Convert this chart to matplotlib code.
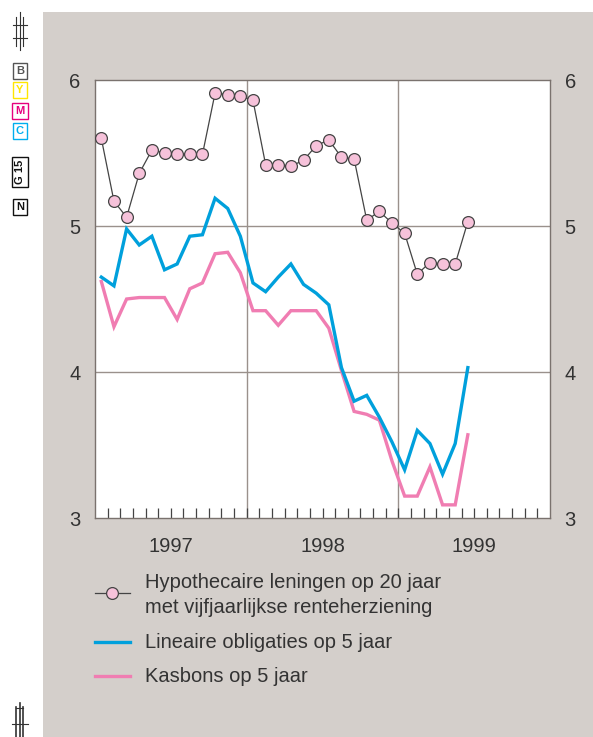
import numpy as np
import matplotlib.pyplot as plt
from matplotlib.lines import Line2D
from matplotlib.patches import Rectangle

plt.rcParams['font.family'] = ['Liberation Sans', 'DejaVu Sans']

# monthly values, jan 1997 .. jun 1999
hypotheek = [5.60, 5.17, 5.06, 5.36, 5.52, 5.50, 5.49, 5.49, 5.49, 5.91,
             5.90, 5.89, 5.86, 5.42, 5.42, 5.41, 5.45, 5.55, 5.59, 5.47,
             5.46, 5.04, 5.10, 5.02, 4.95, 4.67, 4.75, 4.74, 4.74, 5.03]
lineaire = [4.65, 4.59, 4.98, 4.87, 4.93, 4.70, 4.74, 4.93, 4.94, 5.19,
            5.12, 4.93, 4.61, 4.55, 4.65, 4.74, 4.60, 4.54, 4.46, 4.03,
            3.80, 3.84, 3.69, 3.52, 3.33, 3.60, 3.51, 3.30, 3.51, 4.03]
kasbons = [4.62, 4.31, 4.50, 4.51, 4.51, 4.51, 4.36, 4.57, 4.61, 4.81,
           4.82, 4.68, 4.42, 4.42, 4.32, 4.42, 4.42, 4.42, 4.30, 4.01,
           3.73, 3.71, 3.67, 3.39, 3.15, 3.15, 3.35, 3.09, 3.09, 3.57]
years = ['1997', '1998', '1999']
yticks = [3, 4, 5, 6]

labels = ['Hypothecaire leningen op 20 jaar\nmet vijfjaarlijkse renteherziening',
          'Lineaire obligaties op 5 jaar',
          'Kasbons op 5 jaar']

BG = '#d4cfcb'
BLUE = '#00a0dc'
PINK = '#f07db2'
MARK = '#f6c2da'
GRID = '#9a918c'
TXT = '#333333'
FS = 14.5

W, H = 593, 737
fig = plt.figure(figsize=(W / 100, H / 100), dpi=100)
fig.patch.set_facecolor('white')

def fx(px):
    return px / W

def fy(py):
    return 1 - py / H

# gray panel
fig.add_artist(Rectangle((fx(43), 0), 1 - fx(43), fy(12), transform=fig.transFigure,
                         facecolor=BG, edgecolor='none', zorder=0))

ax = fig.add_axes([fx(95), fy(518), fx(550) - fx(95), fy(80) - fy(518)])
ax.set_facecolor('white')

x = np.arange(len(hypotheek)) + 0.5
ax.plot(x, kasbons, color=PINK, lw=2.4, solid_joinstyle='miter', zorder=3)
ax.plot(x, lineaire, color=BLUE, lw=2.4, solid_joinstyle='miter', zorder=4)
ax.plot(x, hypotheek, color='#444444', lw=0.9, marker='o', ms=8.5,
        mfc=MARK, mec='#444444', mew=0.9, zorder=5)

ax.set_xlim(0, 36)
ax.set_ylim(3, 6)

for yv in [4, 5]:
    ax.axhline(yv, color=GRID, lw=1.0, zorder=1)
for xv in [12, 24]:
    ax.axvline(xv, color=GRID, lw=1.0, zorder=1)

for s in ax.spines.values():
    s.set_color('#7a726e')
    s.set_linewidth(1.0)

ax.set_yticks(yticks)
ax.set_yticklabels([str(v) for v in yticks])
ax.tick_params(axis='y', length=0, labelsize=FS, labelcolor=TXT, pad=10.5,
               left=True, right=True, labelleft=True, labelright=True)

ax.xaxis.remove_overlapping_locs = False
ax.set_xticks(np.arange(1, 36), minor=True)
ax.set_xticks([6, 18, 30])
ax.set_xticklabels(years)
ax.tick_params(axis='x', which='minor', direction='in', length=7, width=0.9,
               color='#444444')
ax.tick_params(axis='x', which='major', length=0, labelsize=FS,
               labelcolor=TXT, pad=14)

# legend, drawn by hand
fig.add_artist(Line2D([fx(95), fx(130)], [fy(593), fy(593)], transform=fig.transFigure,
                      color='#444444', lw=0.9))
fig.add_artist(Line2D([fx(112)], [fy(593)], transform=fig.transFigure,
                      marker='o', ms=8.5, mfc=MARK, mec='#444444', mew=0.9))
fig.add_artist(Line2D([fx(95), fx(130)], [fy(642), fy(642)], transform=fig.transFigure,
                      color=BLUE, lw=2.4))
fig.add_artist(Line2D([fx(95), fx(130)], [fy(676), fy(676)], transform=fig.transFigure,
                      color=PINK, lw=2.4))
fig.text(fx(145), fy(595), labels[0], fontsize=FS, color=TXT, va='center',
         linespacing=1.38)
fig.text(fx(145), fy(642), labels[1], fontsize=FS, color=TXT, va='center')
fig.text(fx(145), fy(676), labels[2], fontsize=FS, color=TXT, va='center')

# printer marks in the left margin
marks = [('B', 71, '#555555', 0), ('Y', 90, '#ffe600', 0), ('M', 111, '#e6007e', 0),
         ('C', 131, '#00aeef', 0), ('G 15', 172, '#111111', 90), ('N', 207, '#111111', 0)]
for txt, yp, col, rot in marks:
    fig.text(fx(20), fy(yp), txt, fontsize=8, fontweight='bold', color=col,
             ha='center', va='center', rotation=rot,
             bbox=dict(boxstyle='square,pad=0.3', fc='white', ec=col, lw=1.0))

def crop(xs, ys, lw):
    fig.add_artist(Line2D([fx(v) for v in xs], [fy(v) for v in ys],
                          transform=fig.transFigure, color='#333333', lw=lw))

crop([16, 16], [17, 46], 0.8)
crop([23, 23], [17, 46], 0.8)
crop([19.5, 19.5], [12, 50], 0.8)
crop([13, 27], [25, 25], 0.8)
crop([13, 27], [38, 38], 0.8)
crop([16, 16], [707, 737], 1.2)
crop([19.5, 19.5], [703, 737], 1.2)
crop([23, 23], [707, 737], 1.2)
crop([16, 23], [708, 708], 0.8)
crop([12, 28], [724, 724], 0.8)

fig.savefig('out.png', dpi=100)
